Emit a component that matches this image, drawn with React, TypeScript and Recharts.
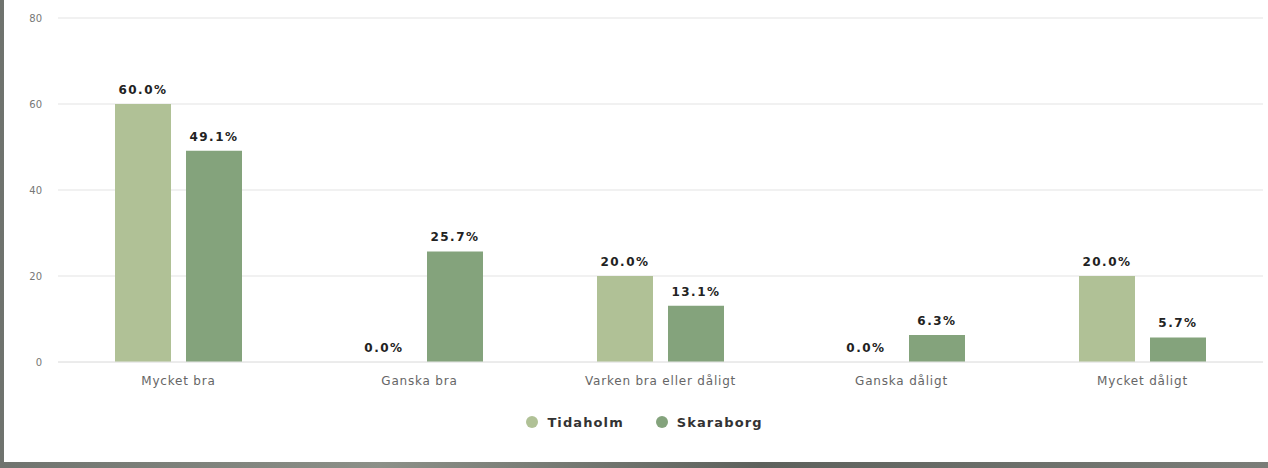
import React from "react";
import { BarChart, Bar, XAxis, YAxis, CartesianGrid, Legend, Rectangle } from "recharts";

const categories = ["Mycket bra", "Ganska bra", "Varken bra eller dåligt", "Ganska dåligt", "Mycket dåligt"];
const tidaholm = [60.0, 0.0, 20.0, 0.0, 20.0];
const skaraborg = [49.1, 25.7, 13.1, 6.3, 5.7];
const seriesNames = ["Tidaholm", "Skaraborg"];
const seriesColors = ["#b0c196", "#84a37c"];
const yTicks = [0, 20, 40, 60, 80];

const data = categories.map((c, i) => ({ name: c, Tidaholm: tidaholm[i], Skaraborg: skaraborg[i] }));

const FONT = "'DejaVu Sans', Verdana, sans-serif";

const LegendContent = () => (
  <div style={{ display: "flex", justifyContent: "center", alignItems: "center", height: 40, paddingLeft: 22, fontFamily: FONT }}>
    {seriesNames.map((n, i) => (
      <div key={n} style={{ display: "flex", alignItems: "center", marginRight: i === 0 ? 32 : 0 }}>
        <span style={{ width: 12, height: 12, borderRadius: 6, background: seriesColors[i], display: "inline-block", marginRight: 9 }} />
        <span style={{ fontSize: 13, fontWeight: 700, color: "#333", letterSpacing: 1.1 }}>{n}</span>
      </div>
    ))}
  </div>
);

const renderLabel = (props: any) => {
  const { x, y, width, height, value } = props;
  if (value === undefined || value === null) return null;
  const h = Number(height);
  const top = h < 1.5 ? Number(y) + h : Number(y);
  return (
    <text
      x={Number(x) + Number(width) / 2}
      y={top - 10}
      textAnchor="middle"
      style={{ fontSize: 12, fontWeight: 700, fill: "#222", fontFamily: FONT, letterSpacing: 1.5 } as any}
    >
      {`${Number(Array.isArray(value) ? value[1] - value[0] : value).toFixed(1)}%`}
    </text>
  );
};

const renderShape = (props: any) => {
  if (Number(props.height) < 1.5) return <g />;
  return <Rectangle {...props} />;
};

export default function App() {
  return (
    <div style={{ position: "fixed", left: 0, top: 0, width: 1268, height: 468, background: "linear-gradient(90deg,#6f736e 0%,#8c9088 30%,#5d615c 60%,#7a7d78 100%)" }}>
      <div style={{ position: "absolute", left: 4, top: 0, width: 1264, height: 462, background: "#fff" }}>
        <BarChart
          width={1264}
          height={462}
          data={data}
          margin={{ top: 18, right: 5, left: 0, bottom: 20 }}
          barSize={56}
          barGap={15}
        >
          <CartesianGrid vertical={false} stroke="#ececec" strokeWidth={1.5} />
          <XAxis
            dataKey="name"
            height={40}
            tickLine={false}
            axisLine={{ stroke: "#e6e6e6" }}
            tickMargin={8}
            tick={{ fontSize: 12, fill: "#666", fontFamily: FONT, letterSpacing: 0.8 } as any}
          />
          <YAxis
            width={54}
            domain={[0, 80]}
            ticks={yTicks}
            axisLine={false}
            tickLine={false}
            tickMargin={10}
            tick={{ fontSize: 10, fill: "#777", fontFamily: FONT } as any}
          />
          <Legend verticalAlign="bottom" height={40} content={<LegendContent />} />
          {seriesNames.map((n, i) => (
            <Bar
              key={n}
              dataKey={n}
              fill={seriesColors[i]}
              isAnimationActive={false}
              minPointSize={1}
              shape={renderShape}
              label={renderLabel}
            />
          ))}
        </BarChart>
      </div>
    </div>
  );
}
